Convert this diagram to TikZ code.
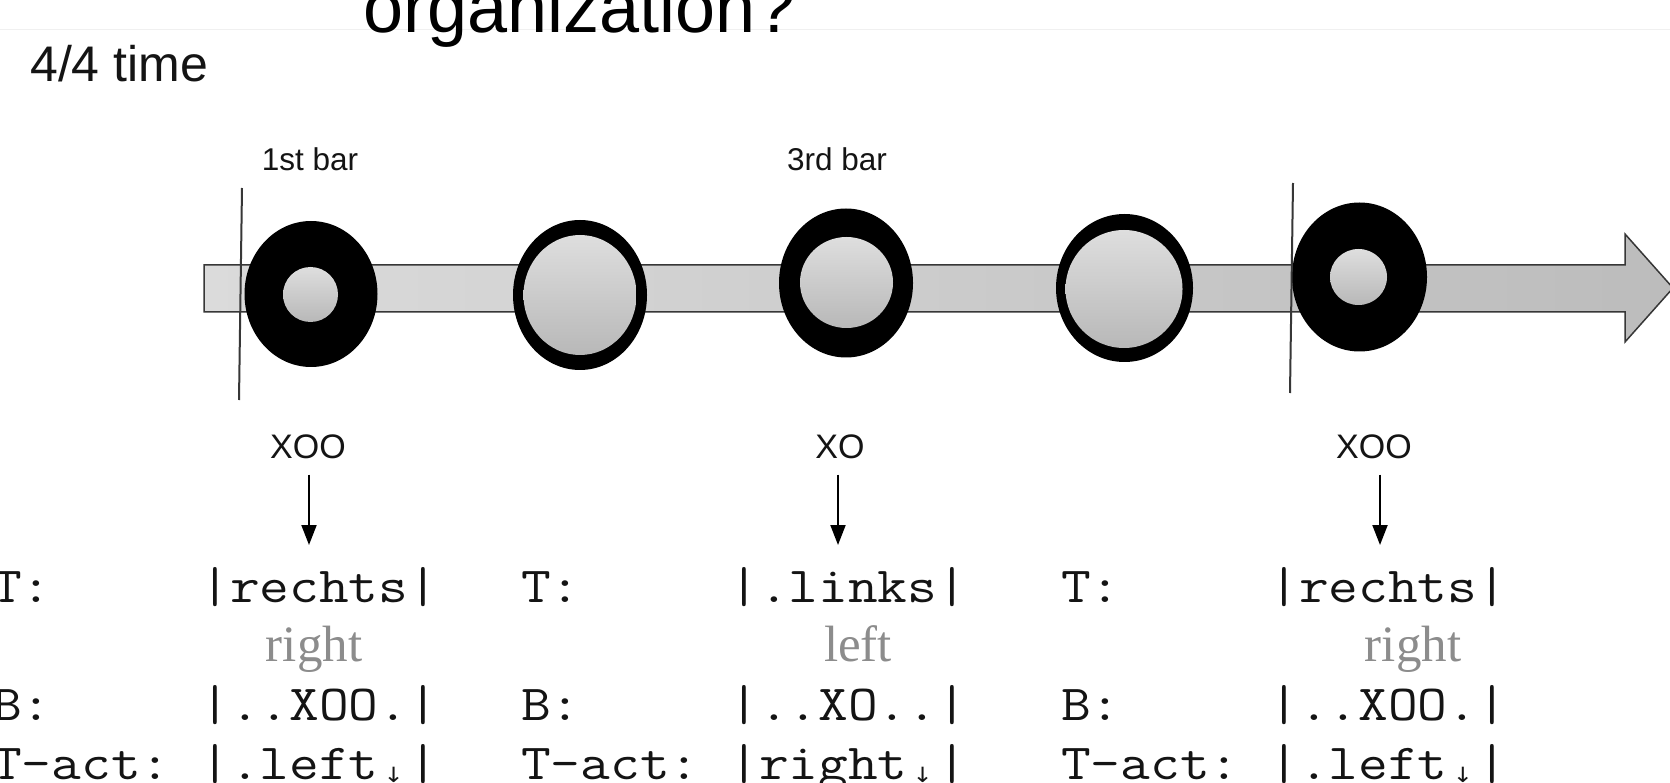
\documentclass[tikz,border=0pt]{standalone}
\usepackage{fontspec}
\usepackage{graphicx}
\setmainfont{Liberation Sans}
\newfontfamily\seriffont{Liberation Serif}
\newfontfamily\arrowfont{DejaVu Sans}
\usetikzlibrary{arrows.meta,shapes.geometric}
\definecolor{barleft}{RGB}{219,219,219}
\definecolor{barright}{RGB}{188,188,188}
\definecolor{barline}{RGB}{55,55,55}
\definecolor{innertop}{RGB}{222,222,222}
\definecolor{innerbot}{RGB}{184,184,184}
\definecolor{graytxt}{RGB}{140,140,140}
\definecolor{txt}{RGB}{20,20,20}
\definecolor{rule}{RGB}{240,240,240}
% monospaced row, widened so that one character cell is 30.3 px wide
\newcommand\mrow[1]{\scalebox{1.143}[1]{\ttfamily\fontsize{50.5pt}{59pt}\selectfont #1}}
\newcommand\dnarrow{\makebox[26.51pt][c]{\raisebox{-0.06em}{\arrowfont\fontsize{21pt}{21pt}\selectfont ↓}}}
\tikzset{
  ringout/.style={ellipse, fill=black, draw=none, inner sep=0pt},
  ringin/.style={ellipse, top color=innertop, bottom color=innerbot, draw=none, inner sep=0pt},
  barlabel/.style={anchor=base, inner sep=0pt, text=txt, font=\fontsize{31.5pt}{32pt}\selectfont},
  beatlabel/.style={anchor=base, inner sep=0pt, text=txt, font=\fontsize{34pt}{34pt}\selectfont},
  monorow/.style={anchor=base west, inner sep=0pt, text=txt},
  glossrow/.style={anchor=base, inner sep=0pt, text=graytxt, font=\seriffont\fontsize{51pt}{59pt}\selectfont},
  pointer/.style={draw=black, line width=2pt, -{Triangle[length=20pt,width=15pt]}},
  barmark/.style={draw=barline, line width=2pt}
}
\begin{document}
\begin{tikzpicture}[x=1pt,y=-1pt]
\useasboundingbox (0,0) rectangle (1670,783);
\fill[white] (0,0) rectangle (1670,783);
% faint rule and title
\draw[rule, line width=1.5pt] (0,29.5) -- (1670,29.5);
\node[anchor=base west, inner sep=0pt] (title) at (363,33) {\fontsize{72pt}{72pt}\selectfont organization?};
\node[anchor=base west, inner sep=0pt, text=txt] (time) at (30,82) {\fontsize{50pt}{50pt}\selectfont 4/4 time};
% timeline arrow
\draw[draw=barline, line width=1.5pt, left color=barleft, right color=barright]
  (204,265) -- (1625,265) -- (1625,234) -- (1673,288) -- (1625,342) -- (1625,312) -- (204,312) -- cycle;
% beats
\node[ringout, minimum width=133pt, minimum height=146pt] (c1) at (311,294) {};
\node[ringin, minimum width=55pt, minimum height=55pt] (c1i) at (310.5,294.5) {};
\node[ringout, minimum width=134pt, minimum height=150pt] (c2) at (580,295) {};
\node[ringin, minimum width=113pt, minimum height=120pt] (c2i) at (580,295) {};
\node[ringout, minimum width=134pt, minimum height=149pt] (c3) at (846,283) {};
\node[ringin, minimum width=93pt, minimum height=91pt] (c3i) at (846.5,282.5) {};
\node[ringout, minimum width=137pt, minimum height=148pt] (c4) at (1124.5,288) {};
\node[ringin, minimum width=117pt, minimum height=118pt] (c4i) at (1124,289) {};
\node[ringout, minimum width=135pt, minimum height=149pt] (c5) at (1359.5,277) {};
\node[ringin, minimum width=57pt, minimum height=56pt] (c5i) at (1358.5,277) {};
% bar lines
\draw[barmark] (242,188) -- (239,400);
\draw[barmark] (1293,183) -- (1290,393);
\node[barlabel] (b1) at (310,171) {1st bar};
\node[barlabel] (b3) at (837,171) {3rd bar};
% beat pattern labels and pointers
\node[beatlabel] (l1) at (308,458) {XOO};
\node[beatlabel] (l2) at (840,458) {XO};
\node[beatlabel] (l3) at (1374,458) {XOO};
\coordinate (a1) at (309,545);
\coordinate (a2) at (838,545);
\coordinate (a3) at (1380,545);
\draw[pointer, shorten <=16pt] (l1.south -| a1) -- (a1);
\draw[pointer, shorten <=16pt] (l2.south -| a2) -- (a2);
\draw[pointer, shorten <=16pt] (l3.south -| a3) -- (a3);
% group 1
\node[monorow] (g1a) at (-8,602) {\mrow{T:~~~~~|rechts|}};
\node[glossrow] (g1b) at (314,661) {right};
\node[monorow] (g1c) at (-8,720) {\mrow{B:~~~~~|..XOO.|}};
\node[monorow] (g1d) at (-8,779) {\mrow{T-act:~|.left\dnarrow|}};
% group 2
\node[monorow] (g2a) at (521,602) {\mrow{T:~~~~~|.links|}};
\node[glossrow] (g2b) at (858,661) {left};
\node[monorow] (g2c) at (521,720) {\mrow{B:~~~~~|..XO..|}};
\node[monorow] (g2d) at (521,779) {\mrow{T-act:~|right\dnarrow|}};
% group 3
\node[monorow] (g3a) at (1061,602) {\mrow{T:~~~~~|rechts|}};
\node[glossrow] (g3b) at (1413,661) {right};
\node[monorow] (g3c) at (1061,720) {\mrow{B:~~~~~|..XOO.|}};
\node[monorow] (g3d) at (1061,779) {\mrow{T-act:~|.left\dnarrow|}};
\end{tikzpicture}
\end{document}
